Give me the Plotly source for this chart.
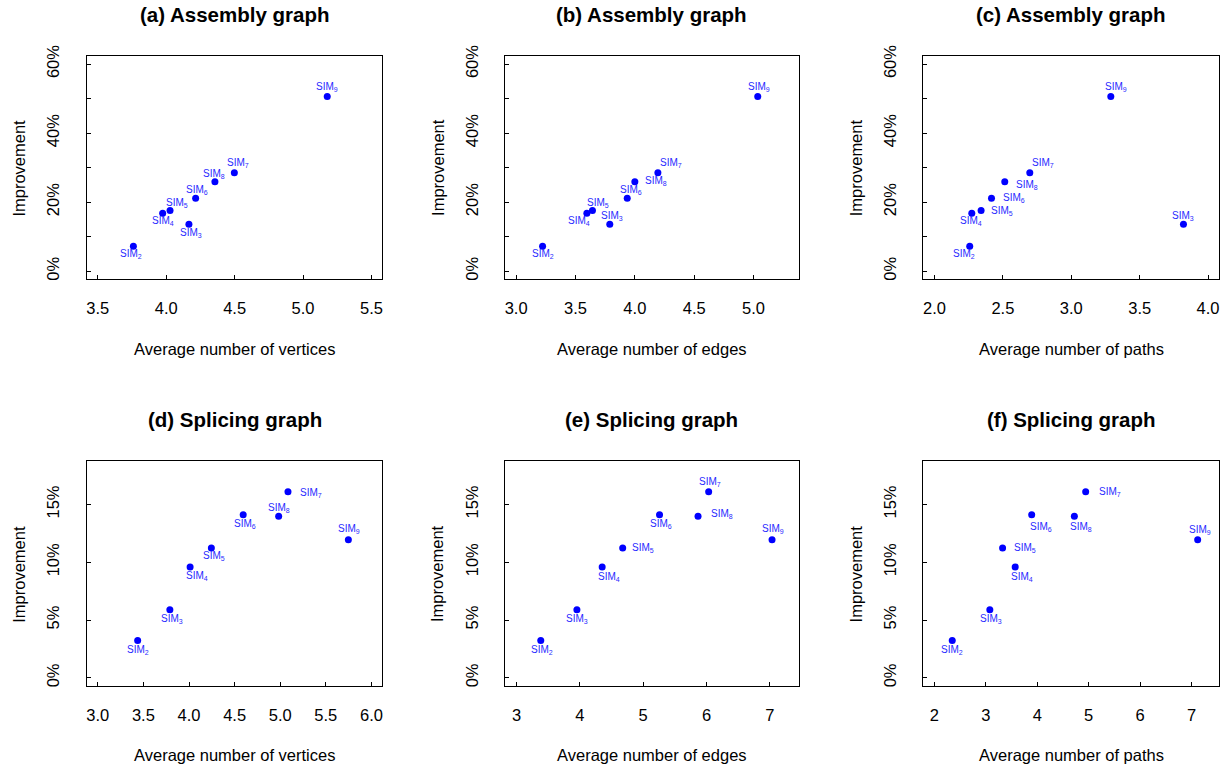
import plotly.graph_objects as go

W, H = 1230, 771

sims = [2, 3, 4, 5, 6, 7, 8, 9]

# Assembly graph (top row)
improvement_assembly = [7.2, 13.6, 16.8, 17.6, 21.1, 28.5, 25.9, 50.6]
asm_vertices = [3.76, 4.166, 3.974, 4.028, 4.215, 4.498, 4.356, 5.177]
asm_edges = [3.223, 3.789, 3.596, 3.643, 3.936, 4.194, 4.000, 5.035]
asm_paths = [2.258, 3.820, 2.273, 2.341, 2.417, 2.697, 2.514, 3.289]

# Splicing graph (bottom row)
improvement_splicing = [3.23, 5.9, 9.59, 11.23, 14.1, 16.1, 13.99, 11.95]
spl_vertices = [3.437, 3.79, 4.012, 4.245, 4.594, 5.085, 4.983, 5.747]
spl_edges = [3.382, 3.953, 4.352, 4.676, 5.258, 6.034, 5.866, 7.035]
spl_paths = [2.347, 3.078, 3.571, 3.326, 3.892, 4.942, 4.722, 7.12]

titles = ["(a) Assembly graph", "(b) Assembly graph", "(c) Assembly graph",
          "(d) Splicing graph", "(e) Splicing graph", "(f) Splicing graph"]
xtitles = ["Average number of vertices", "Average number of edges", "Average number of paths",
           "Average number of vertices", "Average number of edges", "Average number of paths"]

top_yticks = [0, 10, 20, 30, 40, 50, 60]
top_yticktext = ["0%", "", "20%", "", "40%", "", "60%"]
bot_yticks = [0, 5, 10, 15]
bot_yticktext = ["0%", "5%", "10%", "15%"]

xticks = [
    [3.5, 4.0, 4.5, 5.0, 5.5],
    [3.0, 3.5, 4.0, 4.5, 5.0],
    [2.0, 2.5, 3.0, 3.5, 4.0],
    [3.0, 3.5, 4.0, 4.5, 5.0, 5.5, 6.0],
    [3, 4, 5, 6, 7],
    [2, 3, 4, 5, 6, 7],
]

# ---- styling / layout (not data) ----
xranges = [[3.42, 5.58], [2.908, 5.38], [1.92, 4.08],
           [2.88, 6.12], [2.82, 7.456], [1.788, 7.535]]
top_yrange = [-2.4, 62.4]
bot_yrange = [-0.72, 18.72]

boxes_x = [(86, 382), (505, 799), (924, 1220)]
boxes_y = [(53, 278), (461, 687)]

# label offsets (dx right, dy down) in pixels per panel per point
label_offsets = [
    [(-2, 8), (2, 9), (0, 8), (7, -7), (1, -8), (4, -10), (-1, -8), (0, -9)],
    [(0, 8), (2, -8), (-8, 8), (6, -7), (4, -8), (13, -10), (21, -1), (1, -9)],
    [(-6, 8), (0, -8), (-1, 8), (21, 1), (23, 0), (13, -10), (22, 3), (5, -9)],
    [(0, 9), (2, 9), (7, 9), (3, 8), (2, 9), (23, 1), (0, -8), (1, -11)],
    [(1, 9), (0, 9), (7, 10), (20, 0), (1, 9), (1, -10), (24, -2), (1, -11)],
    [(0, 9), (1, 9), (7, 10), (22, 0), (9, 12), (24, 0), (7, 11), (2, -10)],
]

# vertical placement correction for the capture pipeline
Y_OFF, Y_SCALE = 8.0, 0.99


def fy(py):
    return 1 - ((py - Y_OFF) / Y_SCALE) / H


FONT = "Liberation Sans, Arial, Helvetica, sans-serif"
series = [
    (asm_vertices, improvement_assembly),
    (asm_edges, improvement_assembly),
    (asm_paths, improvement_assembly),
    (spl_vertices, improvement_splicing),
    (spl_edges, improvement_splicing),
    (spl_paths, improvement_splicing),
]
labels = ["SIM<sub>%d</sub>" % s for s in sims]

fig = go.Figure()
annotations = []
layout_axes = {}

for i, (xs, ys) in enumerate(series):
    r, c = divmod(i, 3)
    n = i + 1
    xa = "x" if n == 1 else "x%d" % n
    ya = "y" if n == 1 else "y%d" % n
    xname = "xaxis" if n == 1 else "xaxis%d" % n
    yname = "yaxis" if n == 1 else "yaxis%d" % n
    x0, x1 = boxes_x[c]
    y0, y1 = boxes_y[r]
    fig.add_trace(go.Scatter(
        x=xs, y=ys, mode="markers", xaxis=xa, yaxis=ya,
        marker=dict(color="#0000ff", size=7), showlegend=False, hoverinfo="skip"))
    for j, (xv, yv) in enumerate(zip(xs, ys)):
        dx, dy = label_offsets[i][j]
        annotations.append(dict(
            x=xv, y=yv, xref=xa, yref=ya, text=labels[j], showarrow=False,
            xshift=dx, yshift=-dy, xanchor="center", yanchor="middle",
            font=dict(family=FONT, size=10, color="#2a2aff")))
    layout_axes[xname] = dict(
        domain=[x0 / W, x1 / W], range=xranges[i], anchor=ya,
        tickvals=xticks[i], ticktext=[("%.1f" % t) if i < 4 else str(t) for t in xticks[i]],
        ticks="inside", ticklen=4, tickcolor="black", tickwidth=1,
        showline=True, linecolor="black", linewidth=1, mirror=True,
        showgrid=False, zeroline=False, ticklabelstandoff=14,
        tickfont=dict(family=FONT, size=16.5, color="black"))
    layout_axes[yname] = dict(
        domain=[fy(y1), fy(y0)], anchor=xa,
        range=top_yrange if r == 0 else bot_yrange,
        tickvals=top_yticks if r == 0 else bot_yticks,
        ticktext=top_yticktext if r == 0 else bot_yticktext,
        tickangle=-90,
        ticks="inside", ticklen=4, tickcolor="black", tickwidth=1,
        showline=True, linecolor="black", linewidth=1, mirror=True,
        showgrid=False, zeroline=False, ticklabelstandoff=20,
        tickfont=dict(family=FONT, size=16.5, color="black"))
    cx = (x0 + x1) / 2
    # panel title
    annotations.append(dict(
        x=cx / W, y=fy(12 if r == 0 else 419), xref="paper", yref="paper",
        text="<b>%s</b>" % titles[i], showarrow=False, xanchor="center", yanchor="middle",
        font=dict(family=FONT, size=20.5, color="black")))
    # x-axis title
    annotations.append(dict(
        x=cx / W, y=fy(348 if r == 0 else 756), xref="paper", yref="paper",
        text=xtitles[i], showarrow=False, xanchor="center", yanchor="middle",
        font=dict(family=FONT, size=16.5, color="black")))
    # y-axis title
    annotations.append(dict(
        x=(x0 - 68) / W, y=fy((y0 + y1) / 2), xref="paper", yref="paper",
        text="Improvement", showarrow=False, xanchor="center", yanchor="middle",
        textangle=-90, font=dict(family=FONT, size=16.5, color="black")))

fig.update_layout(
    width=W, height=H, margin=dict(l=0, r=0, t=0, b=0),
    paper_bgcolor="white", plot_bgcolor="white",
    annotations=annotations, **layout_axes)

fig.write_html(
    "out.html",
    config={"displayModeBar": False, "staticPlot": True},
    post_script=(
        "document.documentElement.style.margin='0';"
        "document.body.style.margin='0';document.body.style.padding='0';"
        "document.documentElement.style.overflow='hidden';"
        "var gd=document.getElementById('{plot_id}');"
        "gd.style.position='fixed';gd.style.top='0px';gd.style.left='0px';"
    ),
)
